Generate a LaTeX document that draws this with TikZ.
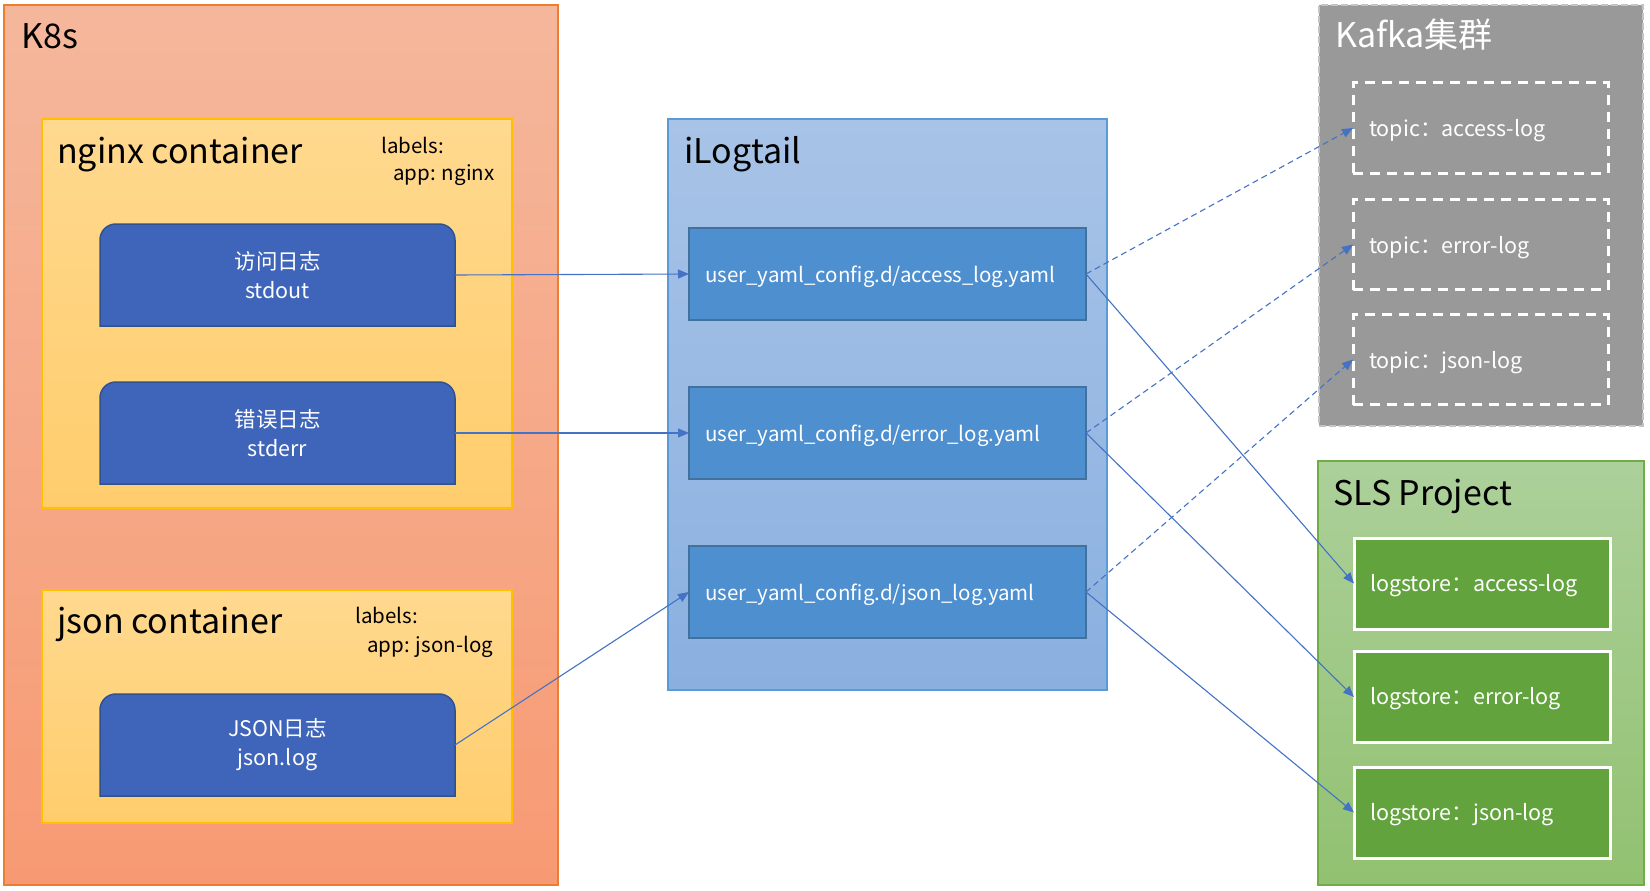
\documentclass[tikz,border=0pt]{standalone}
\usepackage{fontspec}
\setmainfont{Noto Sans CJK SC}
\usetikzlibrary{arrows.meta}
\definecolor{k8stop}{HTML}{F5B79C}
\definecolor{k8sbot}{HTML}{F79A73}
\definecolor{k8sline}{HTML}{ED7D31}
\definecolor{ctop}{HTML}{FFD98F}
\definecolor{cbot}{HTML}{FFCD6C}
\definecolor{cline}{HTML}{FFC000}
\definecolor{srcfill}{HTML}{3E65BA}
\definecolor{srcline}{HTML}{2F528F}
\definecolor{iltop}{HTML}{A8C3E7}
\definecolor{ilbot}{HTML}{8AB0E0}
\definecolor{illine}{HTML}{5B9BD5}
\definecolor{cfgfill}{HTML}{4E8FCF}
\definecolor{cfgline}{HTML}{41719C}
\definecolor{kfill}{HTML}{999999}
\definecolor{kline}{HTML}{C4C4C4}
\definecolor{slstop}{HTML}{ACD09A}
\definecolor{slsbot}{HTML}{92C171}
\definecolor{slsline}{HTML}{70AD47}
\definecolor{lsfill}{HTML}{62A33E}
\definecolor{connc}{HTML}{4472C4}
\pgfdeclarelayer{bg}
\pgfdeclarelayer{mid}
\pgfsetlayers{bg,mid,main}
\newcommand\srcbox[1]{%
  \filldraw[fill=srcfill,draw=srcline,line width=1.5pt]
    (#1.south west) -- ([yshift=-16pt]#1.north west)
    .. controls ([yshift=-7pt]#1.north west) and ([xshift=7pt]#1.north west) .. ([xshift=16pt]#1.north west)
    -- ([xshift=-16pt]#1.north east)
    .. controls ([xshift=-7pt]#1.north east) and ([yshift=-7pt]#1.north east) .. ([yshift=-16pt]#1.north east)
    -- (#1.south east) -- cycle;}
\begin{document}
\begin{tikzpicture}[x=1pt,y=-1pt,
  box/.style={inner sep=0pt,outer sep=0pt,anchor=north west},
  k8sbox/.style={box,draw=k8sline,line width=1.5pt,top color=k8stop,bottom color=k8sbot},
  ctbox/.style={box,draw=cline,line width=2pt,top color=ctop,bottom color=cbot},
  ilbox/.style={box,draw=illine,line width=1.5pt,top color=iltop,bottom color=ilbot},
  kbox/.style={box,draw=kline,line width=2.5pt,fill=kfill,dash pattern=on 7pt off 3pt},
  slsbox/.style={box,draw=slsline,line width=1.5pt,top color=slstop,bottom color=slsbot},
  title/.style={anchor=base west,inner sep=0pt,font=\fontsize{34}{40}\selectfont},
  lbl/.style={anchor=base west,inner sep=0pt,font=\fontsize{20.5}{24}\selectfont},
  srcnode/.style={minimum width=355pt,minimum height=102pt,inner sep=0pt,outer sep=0pt,
    text=white,align=center,font=\fontsize{21.5}{29}\selectfont},
  cfgnode/.style={draw=cfgline,fill=cfgfill,line width=1.5pt,minimum height=92pt,
    text width=365pt,inner xsep=16pt,inner ysep=0pt,outer sep=0pt,align=left,text=white,
    text height=17pt,text depth=0pt,font=\fontsize{20.5}{24}\selectfont},
  topicnode/.style={draw=white,line width=3pt,dash pattern=on 10pt off 7pt,minimum height=90pt,
    text width=223pt,inner xsep=16pt,inner ysep=0pt,outer sep=0pt,align=left,text=white,
    text height=17pt,text depth=0pt,font=\fontsize{21.5}{24}\selectfont},
  lsnode/.style={draw=white,fill=lsfill,line width=3pt,minimum height=91pt,
    text width=224pt,inner xsep=16pt,inner ysep=0pt,outer sep=0pt,align=left,text=white,
    text height=15pt,text depth=0pt,font=\fontsize{21.5}{24}\selectfont},
  conn/.style={draw=connc,line width=1.1pt,-{Triangle[length=11pt,width=9pt]}},
  dconn/.style={conn,dash pattern=on 6pt off 4pt}]
\useasboundingbox (0,0) rectangle (1650,891);

% containers
\begin{pgfonlayer}{bg}
\fill[white] (0,0) rectangle (1650,891);
\node[k8sbox,minimum width=554pt,minimum height=880pt] (k8s) at (4,5) {};
\node[ctbox,minimum width=470pt,minimum height=389pt] (nginxc) at (42,119) {};
\node[ctbox,minimum width=470pt,minimum height=233pt] (jsonc) at (42,590) {};
\node[ilbox,minimum width=439pt,minimum height=571pt] (ilog) at (668,119) {};
\node[kbox,minimum width=324pt,minimum height=421pt] (kafka) at (1319,5) {};
\node[slsbox,minimum width=326pt,minimum height=424pt] (sls) at (1318,461) {};
\end{pgfonlayer}

% titles
\node[title] (k8st) at (21,49) {K8s};
\node[title] (nginxt) at (57,163) {nginx container};
\node[title] (jsont) at (57,633) {json container};
\node[title] (ilogt) at (684,163) {iLogtail};
\node[title,text=white] (kafkat) at (1335,48) {Kafka集群};
\node[title] (slst) at (1333,505) {SLS Project};

\node[lbl] (nl1) at (381,153) {labels:};
\node[lbl] (nl2) at (393,180) {app: nginx};
\node[lbl] (jl1) at (355,623) {labels:};
\node[lbl] (jl2) at (367,652) {app: json-log};

% sources
\node[srcnode] (stdout) at (277.5,275) {访问日志\\stdout};
\node[srcnode] (stderr) at (277.5,433) {错误日志\\stderr};
\node[srcnode] (jsonlog) at (277.5,745) {JSON日志\\json.log};
\begin{pgfonlayer}{mid}
\srcbox{stdout}
\srcbox{stderr}
\srcbox{jsonlog}
\end{pgfonlayer}

% configs
\node[cfgnode] (cfga) at (887.5,274) {user\_yaml\_config.d/access\_log.yaml};
\node[cfgnode] (cfgb) at (887.5,433) {user\_yaml\_config.d/error\_log.yaml};
\node[cfgnode] (cfgc) at (887.5,592) {user\_yaml\_config.d/json\_log.yaml};

% topics
\node[topicnode] (topica) at (1480.5,128) {topic：access-log};
\node[topicnode] (topicb) at (1480.5,244.5) {topic：error-log};
\node[topicnode] (topicc) at (1480.5,359.5) {topic：json-log};

% logstores
\node[lsnode] (lsa) at (1482,583.5) {logstore：access-log};
\node[lsnode] (lsb) at (1482,697) {logstore：error-log};
\node[lsnode] (lsc) at (1482,812.5) {logstore：json-log};

% connectors
\draw[conn] (stdout.east) -- (cfga.west);
\draw[conn] (stderr.east) -- (cfgb.west);
\draw[conn] (jsonlog.east) -- (cfgc.west);
\draw[dconn] (cfga.east) -- (topica.west);
\draw[dconn] (cfgb.east) -- (topicb.west);
\draw[dconn] (cfgc.east) -- (topicc.west);
\draw[conn] (cfga.east) -- (lsa.west);
\draw[conn] (cfgb.east) -- (lsb.west);
\draw[conn] (cfgc.east) -- (lsc.west);
\end{tikzpicture}
\end{document}
